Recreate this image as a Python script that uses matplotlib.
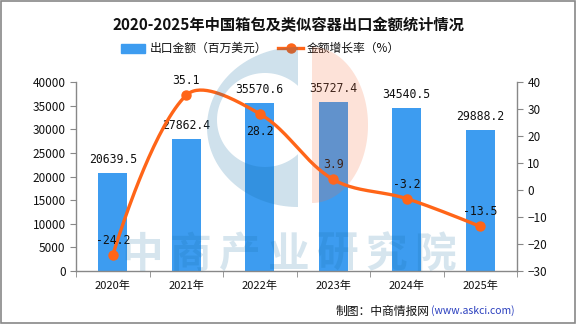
import numpy as np
import matplotlib
matplotlib.use("Agg")
import matplotlib.pyplot as plt
from matplotlib.patches import Rectangle, PathPatch
from matplotlib.lines import Line2D
from matplotlib.path import Path
from matplotlib.transforms import Affine2D

plt.rcParams['font.family'] = ['Noto Sans CJK SC', 'DejaVu Sans']

years = ['2020年', '2021年', '2022年', '2023年', '2024年', '2025年']
export_value = [20639.5, 27862.4, 35570.6, 35727.4, 34540.5, 29888.2]
growth_rate = [-24.2, 35.1, 28.2, 3.9, -3.2, -13.5]
value_labels = ['20639.5', '27862.4', '35570.6', '35727.4', '34540.5', '29888.2']
growth_labels = ['-24.2', '35.1', '28.2', '3.9', '-3.2', '-13.5']
growth_label_below = [False, False, True, False, False, False]

W, H = 576, 324
fig = plt.figure(figsize=(W / 100, H / 100), dpi=100)
ax = fig.add_axes([76 / W, 1 - 271 / H, (517 - 76) / W, (271 - 82) / H])
ax2 = ax.twinx()
px = Affine2D().scale(1 / W, -1 / H).translate(0, 1) + fig.transFigure  # pixel coords (top-left origin)

x = np.arange(len(years))
blue = '#3d9cf0'
orange = '#ff6518'
ax.bar(x, export_value, width=0.4, color=blue, zorder=2)
ax.set_xlim(-0.5, len(years) - 0.5)
ax.set_ylim(0, 40000)
ax.set_yticks(np.arange(0, 40001, 5000))
ax2.set_ylim(-30, 40)
ax2.set_yticks(np.arange(-30, 41, 10))


def smooth_curve(axis, xs, ys, smooth=0.35, n=40):
    """echarts-style smoothed polyline, computed in display space."""
    P = axis.transData.transform(np.column_stack([xs, ys]))
    out = [P[0]]
    cp0 = P[0].copy()
    for i in range(1, len(P)):
        p = P[i]
        if i == len(P) - 1:
            cp1 = p.copy()
            ncp0 = p.copy()
        else:
            prev, nxt = P[i - 1], P[i + 1]
            v = nxt - prev
            lp = np.hypot(*(p - prev))
            ln = np.hypot(*(nxt - p))
            r = ln / (ln + lp)
            cp1 = p - v * smooth * (1 - r)
            ncp0 = p + v * smooth * r
        a = P[i - 1]
        t = np.linspace(0, 1, n)[1:, None]
        seg = ((1 - t) ** 3) * a + 3 * ((1 - t) ** 2) * t * cp0 + 3 * (1 - t) * t ** 2 * cp1 + t ** 3 * p
        out.extend(seg)
        cp0 = ncp0
    out = np.array(out)
    d = axis.transData.inverted().transform(out)
    return d[:, 0], d[:, 1]


sx, sy = smooth_curve(ax2, x, growth_rate)
ax2.plot(sx, sy, color=orange, lw=2.4, zorder=3, solid_capstyle='round')
ax2.plot(x, growth_rate, 'o', color=orange, ms=6.5, zorder=4)

mono = ['DejaVu Sans Mono', 'DejaVu Sans']
for xi, v, lab in zip(x, export_value, value_labels):
    ax.text(xi, v + 1500, lab, ha='center', va='bottom', fontsize=8.3, color='#111111',
            family=mono, zorder=5)
for xi, v, lab, below in zip(x, growth_rate, growth_labels, growth_label_below):
    if below:
        ax2.text(xi, v - 4.3, lab, ha='center', va='top', fontsize=8.3, color='#111111',
                 family=mono, zorder=5)
    else:
        ax2.text(xi, v + 3.0, lab, ha='center', va='bottom', fontsize=8.3, color='#111111',
                 family=mono, zorder=5)

ax.set_xticks(x)
ax.set_xticklabels(years, fontsize=8)
ax.set_xticks(np.arange(-0.5, len(years)), minor=True)
for a in (ax, ax2):
    for s in a.spines.values():
        s.set_visible(False)
ax.spines['left'].set_visible(True)
ax.spines['bottom'].set_visible(True)
ax2.spines['right'].set_visible(True)
for s in (ax.spines['left'], ax.spines['bottom'], ax2.spines['right']):
    s.set_color('#888888')
    s.set_linewidth(1)
ax.tick_params(axis='y', colors='#888888', labelcolor='#111111', labelsize=8.5, length=4)
ax2.tick_params(axis='y', colors='#888888', labelcolor='#111111', labelsize=8.5, length=4)
ax.tick_params(axis='x', which='major', length=0, pad=7, labelcolor='#111111')
ax.tick_params(axis='x', which='minor', length=4, color='#888888')

# ---- watermark logo (drawn on top, translucent) ----
wm_blue = (15 / 255, 105 / 255, 160 / 255)
wm_orange = (245 / 255, 110 / 255, 60 / 255)
th = np.linspace(0, 2 * np.pi, 200)
outer = np.column_stack([298 + 91 * np.cos(th), 127 + 80 * np.sin(th)])
inner = np.column_stack([265 + 48 * np.cos(th[::-1]), 120 + 47 * np.sin(th[::-1])])
verts = np.vstack([outer, outer[:1], inner, inner[:1]])
codes = ([Path.MOVETO] + [Path.LINETO] * (len(outer) - 1) + [Path.CLOSEPOLY]) * 2
ring = PathPatch(Path(verts, codes), facecolor=wm_blue, edgecolor='none', alpha=0.2,
                 transform=px, figure=fig, zorder=6)
clip = Rectangle((150, 30), 148, 200, transform=px, figure=fig)
ring.set_clip_path(clip)
fig.patches.append(ring)

thd = np.linspace(-np.pi / 2, np.pi / 2, 100)
dshape = np.column_stack([312 + 56 * np.cos(thd), 125 + 78 * np.sin(thd)])
dpatch = PathPatch(Path(np.vstack([dshape, dshape[:1]]), closed=True), facecolor=wm_orange,
                   edgecolor='none', alpha=0.2, transform=px, figure=fig, zorder=6)
fig.patches.append(dpatch)

wm_chars = '中商产业研究院'
wm_x = np.linspace(142, 435, len(wm_chars))
for c, cx in zip(wm_chars, wm_x):
    fig.text(cx / W, 1 - 255 / H, c, fontsize=30, color=wm_blue, alpha=0.17, ha='center',
             va='center', fontweight='bold', zorder=6)

# ---- title / legend / source ----
fig.text(0.5, 1 - 25 / H, '2020-2025年中国箱包及类似容器出口金额统计情况', ha='center', va='center',
         fontsize=11, fontweight='bold', color='#111111')

fig.patches.append(Rectangle((121, 44), 24, 9, transform=px, color=blue, figure=fig))
fig.text(150 / W, 1 - 48 / H, '出口金额（百万美元）', fontsize=8.5, va='center', ha='left', color='#111111')
fig.lines.append(Line2D([278, 303], [48, 48], transform=px, color=orange, lw=2.4, figure=fig))
fig.lines.append(Line2D([290.5], [48], transform=px, marker='o', ms=6.5, color=orange, figure=fig))
fig.text(307 / W, 1 - 48 / H, '金额增长率（%）', fontsize=8.5, va='center', ha='left', color='#111111')

fig.text(0.745, 1 - 311 / H, '制图：中商情报网', fontsize=8.5, ha='right', va='center', color='#111111')
fig.text(0.748, 1 - 311 / H, '(www.askci.com)', fontsize=7.5, ha='left', va='center', color='#2a3fbf')

fig.patches.append(Rectangle((0.5, 0.5), W - 1.5, H - 1.5, transform=px, fill=False,
                             edgecolor='#888888', lw=1.2, figure=fig))

fig.savefig('out.png', dpi=100)
